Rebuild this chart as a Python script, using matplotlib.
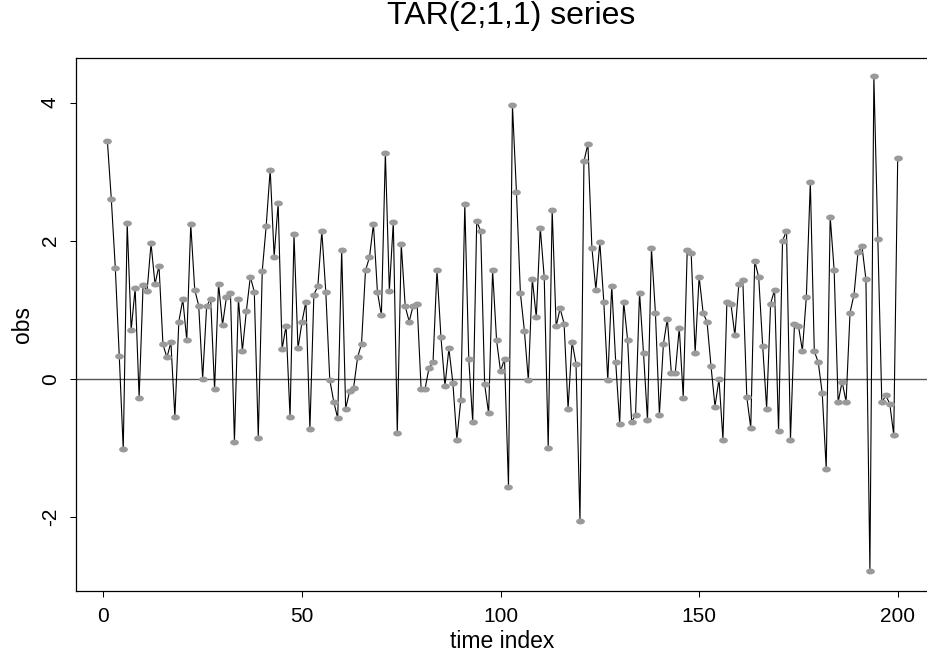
import matplotlib
matplotlib.use('Agg')
import matplotlib.pyplot as plt
from matplotlib.path import Path
import numpy as np

plt.rcParams['font.family'] = ['Liberation Sans', 'DejaVu Sans']

obs_1_50 = [3.45, 2.60, 1.61, 0.33, -1.02, 2.25, 0.71, 1.31, -0.27, 1.36,
            1.27, 1.96, 1.37, 1.64, 0.50, 0.31, 0.53, -0.55, 0.83, 1.15,
            0.56, 2.24, 1.29, 1.06, 0.00, 1.05, 1.16, -0.15, 1.38, 0.78,
            1.19, 1.24, -0.91, 1.16, 0.41, 0.98, 1.48, 1.26, -0.85, 1.56,
            2.22, 3.03, 1.77, 2.54, 0.43, 0.77, -0.55, 2.09, 0.44, 0.82]
obs_51_100 = [1.12, -0.73, 1.22, 1.34, 2.14, 1.26, -0.01, -0.33, -0.57, 1.87,
              -0.43, -0.18, -0.13, 0.31, 0.51, 1.57, 1.76, 2.24, 1.26, 0.92,
              3.27, 1.27, 2.27, -0.79, 1.95, 1.05, 0.83, 1.06, 1.08, -0.14,
              -0.14, 0.16, 0.24, 1.58, 0.60, -0.10, 0.44, -0.06, -0.88, -0.30,
              2.53, 0.29, -0.63, 2.28, 2.14, -0.08, -0.50, 1.57, 0.56, 0.11]
obs_101_150 = [0.29, -1.56, 3.96, 2.71, 1.24, 0.70, -0.02, 1.45, 0.89, 2.19,
               1.47, -1.00, 2.45, 0.76, 1.02, 0.80, -0.43, 0.54, 0.22, -2.06,
               3.15, 3.40, 1.90, 1.29, 1.98, 1.11, -0.02, 1.35, 0.24, -0.65,
               1.12, 0.56, -0.62, -0.52, 1.25, 0.37, -0.60, 1.89, 0.95, -0.52,
               0.50, 0.87, 0.09, 0.09, 0.74, -0.27, 1.86, 1.82, 0.38, 1.48]
obs_151_200 = [0.96, 0.82, 0.18, -0.40, 0.00, -0.88, 1.12, 1.09, 0.63, 1.37,
               1.43, -0.26, -0.71, 1.71, 1.47, 0.48, -0.43, 1.09, 1.29, -0.76,
               2.00, 2.14, -0.88, 0.80, 0.77, 0.41, 1.19, 2.85, 0.40, 0.24,
               -0.21, -1.30, 2.35, 1.57, -0.34, -0.04, -0.33, 0.96, 1.22, 1.83,
               1.92, 1.44, -2.78, 4.38, 2.02, -0.34, -0.24, -0.36, -0.81, 3.19]
obs = np.array(obs_1_50 + obs_51_100 + obs_101_150 + obs_151_200)
time_index = np.arange(1, len(obs) + 1)

xticks = [0, 50, 100, 150, 200]
yticks = [-2, 0, 2, 4]

# slightly flattened dot, as in the reference
t = np.linspace(0, 2 * np.pi, 40)
dot = Path(np.column_stack([np.cos(t), 0.68 * np.sin(t)]), closed=True)

fig = plt.figure(figsize=(9.27, 6.58), dpi=100)
ax = fig.add_axes([0.0817, 0.1018, 0.9208, 0.8096])

ax.plot(time_index, obs, color='black', lw=0.8, zorder=2)
ax.plot(time_index, obs, ls='none', marker=dot, ms=6.3, mfc='#9a9a9a', mec='none', zorder=3)
ax.axhline(0, color='#555555', lw=1.0, zorder=1)

ax.set_xlim(-6.96, 207.96)
ax.set_ylim(-3.07, 4.64)
ax.set_xticks(xticks)
ax.set_yticks(yticks)
ax.set_yticklabels([str(v) for v in yticks], rotation=90, va='center')
ax.tick_params(direction='out', length=4.5, width=0.75, labelsize=15, colors='black')
ax.tick_params(axis='x', pad=7)
ax.tick_params(axis='y', pad=7)
for sp in ax.spines.values():
    sp.set_linewidth(0.9)
    sp.set_color('black')

ax.set_xlabel('time index', fontsize=16.5, labelpad=3)
ax.set_ylabel('obs', fontsize=16.5, labelpad=5)
ax.set_title('TAR(2;1,1) series', fontsize=23, pad=25, x=0.51)

fig.savefig('out.png', dpi=100)
